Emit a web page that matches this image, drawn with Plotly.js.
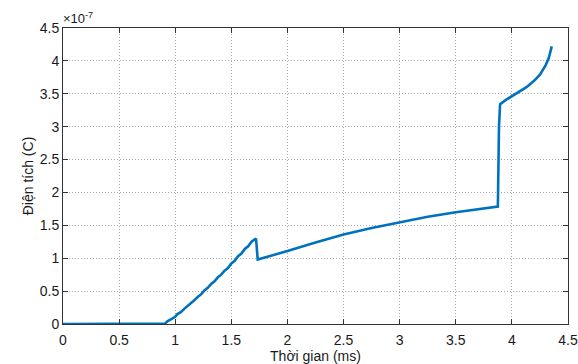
<!DOCTYPE html>
<html><head><meta charset="utf-8">
<script src="https://cdn.plot.ly/plotly-3.0.1.min.js"></script>
<style>body{margin:0;background:#fff}</style></head>
<body><div id="chart" style="width:578px;height:364px"></div>
<script>
// time in ms, charge in units of 1e-7 C
const timeMs = [0, 0.22, 0.23, 0.5, 0.91, 0.93, 0.95, 0.97, 1.0, 1.02, 1.05, 1.08, 1.11, 1.14, 1.17, 1.2, 1.23, 1.26, 1.29, 1.32, 1.35, 1.38, 1.41, 1.44, 1.47, 1.5, 1.53, 1.56, 1.59, 1.62, 1.65, 1.68, 1.70, 1.72, 1.735,
  1.8, 2.0, 2.25, 2.5, 2.75, 3.0, 3.25, 3.5, 3.75, 3.875, 3.885, 3.895, 3.95, 4.0, 4.07, 4.13, 4.2, 4.25, 4.3, 4.33, 4.355];
const charge = [0, 0, 0.005, 0.005, 0.005, 0.04, 0.06, 0.08, 0.11, 0.15, 0.18, 0.23, 0.27, 0.32, 0.36, 0.41, 0.45, 0.51, 0.55, 0.61, 0.65, 0.71, 0.75, 0.81, 0.85, 0.92, 0.96, 1.03, 1.07, 1.14, 1.18, 1.25, 1.27, 1.30, 0.98,
  1.01, 1.11, 1.24, 1.36, 1.46, 1.55, 1.63, 1.70, 1.76, 1.785, 3.0, 3.34, 3.41, 3.46, 3.53, 3.6, 3.7, 3.79, 3.93, 4.05, 4.22];
const xTicks = [0, 0.5, 1, 1.5, 2, 2.5, 3, 3.5, 4, 4.5];
const yTicks = [0, 0.5, 1, 1.5, 2, 2.5, 3, 3.5, 4, 4.5];

const font = {family: 'Liberation Sans, Arial, sans-serif', size: 14, color: '#1a1a1a'};
const axisCommon = {
  showline: true, linecolor: '#333', linewidth: 1, mirror: 'ticks',
  ticks: 'inside', ticklen: 5, tickcolor: '#333',
  showgrid: true, gridcolor: '#a8a8a8', griddash: '1px,2px', gridwidth: 1,
  zeroline: false, tickfont: font
};
Plotly.newPlot('chart', [{
  x: timeMs, y: charge, type: 'scatter', mode: 'lines',
  line: {color: '#0072BD', width: 2.6}
}], {
  width: 578, height: 364,
  margin: {l: 63, r: 10, t: 28, b: 40},
  paper_bgcolor: '#fff', plot_bgcolor: '#fff',
  showlegend: false, font: font,
  xaxis: Object.assign({}, axisCommon, {range: [0, 4.5], tickvals: xTicks, ticktext: xTicks.map(String),
    ticklabelstandoff: 3,
    title: {text: 'Thời gian (ms)', font: font, standoff: 6}}),
  yaxis: Object.assign({}, axisCommon, {range: [0, 4.5], tickvals: yTicks, ticktext: yTicks.map(String),
    title: {text: 'Điện tích (C)', font: font, standoff: 2}}),
  annotations: [{xref: 'paper', yref: 'paper', x: 0, y: 1, xanchor: 'left', yanchor: 'bottom',
    text: '×10<sup>-7</sup>', showarrow: false, font: {family: font.family, size: 13, color: '#1a1a1a'}, xshift: -2, yshift: 0}]
}, {displayModeBar: false, staticPlot: true});
</script></body></html>
